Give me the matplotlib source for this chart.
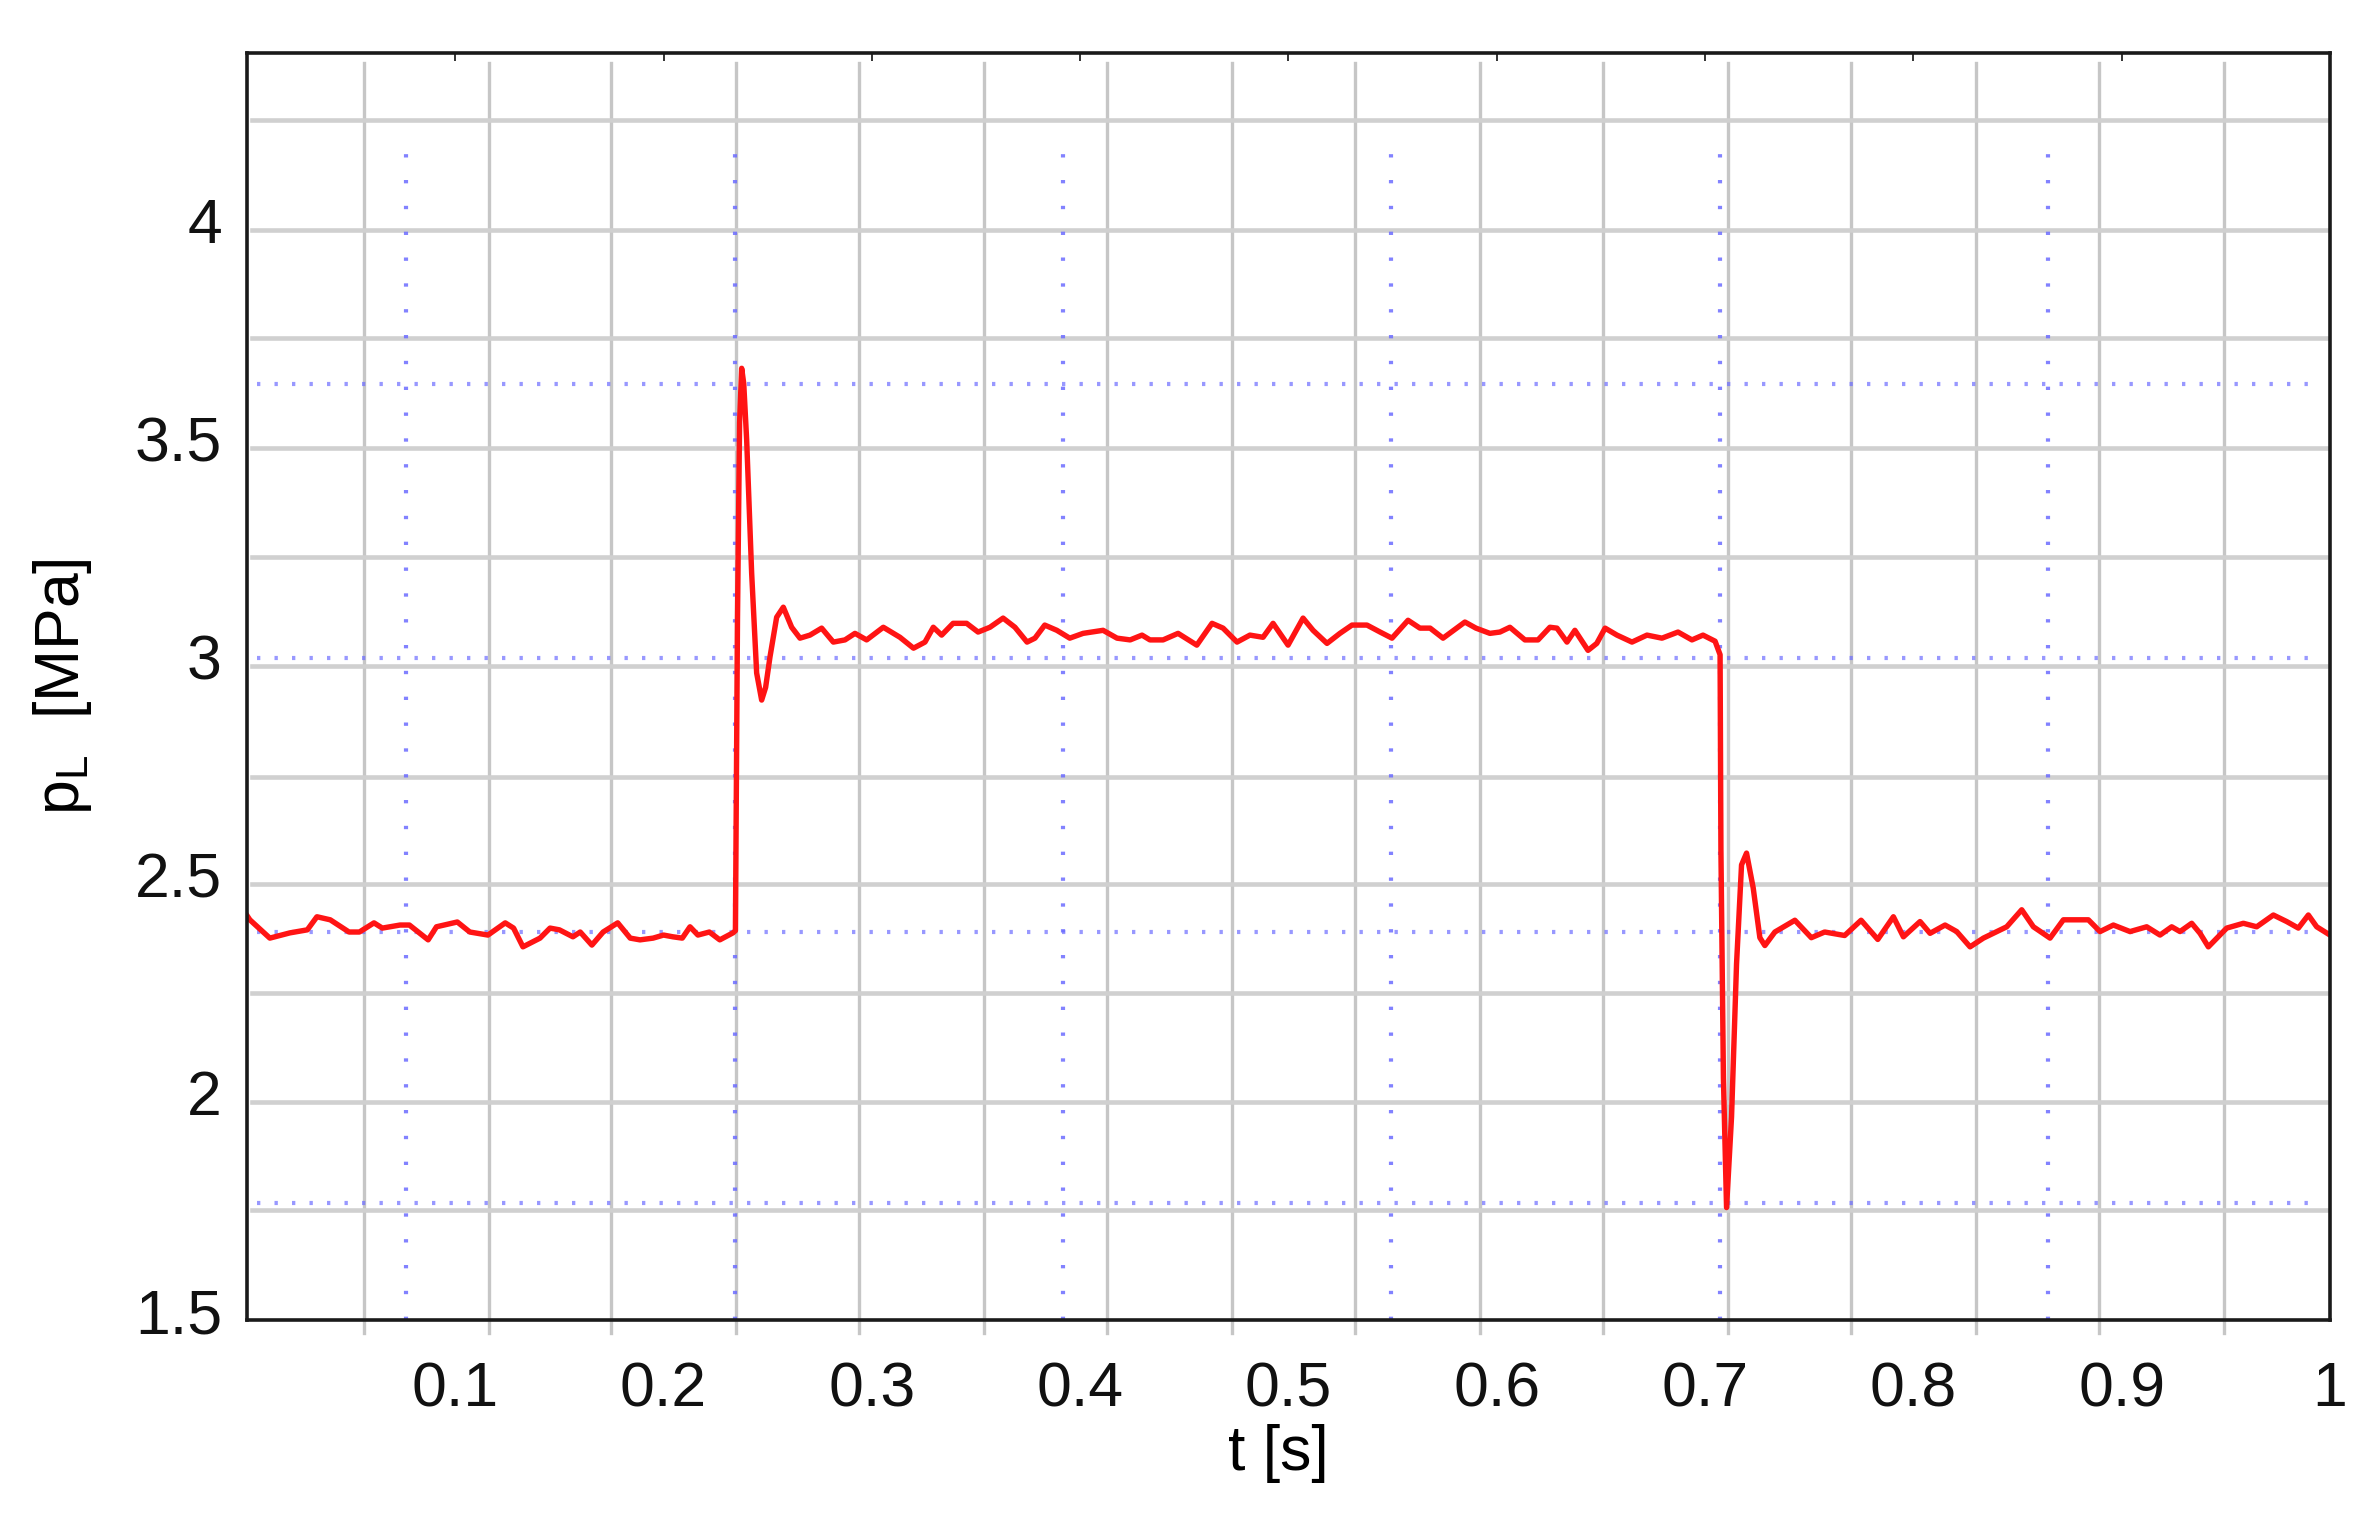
"""Load pressure p_L step response (scope capture) redrawn with matplotlib.

Writes out.png (2372x1525 px).
"""
import matplotlib
matplotlib.use("Agg")
import matplotlib.pyplot as plt

# --- signal -------------------------------------------
t_s = [
    0.000, 0.0014, 0.011, 0.0206, 0.029, 0.0336, 0.040, 0.049, 0.054, 0.061,
    0.065, 0.0735, 0.078, 0.087, 0.091, 0.101, 0.107, 0.1157, 0.124, 0.128,
    0.1325, 0.1407, 0.1455, 0.150, 0.1565, 0.160, 0.1656, 0.171, 0.178, 0.184,
    0.1887, 0.195, 0.200, 0.2045, 0.209, 0.2127, 0.2165, 0.222, 0.227, 0.2333,
    # step up
    0.2345, 0.2355, 0.2365, 0.2375, 0.2385, 0.2399, 0.2423, 0.2447, 0.2471, 0.2490,
    0.2511, 0.2543, 0.2575,
    # plateau
    0.2615, 0.2655, 0.2703, 0.2759, 0.2815, 0.2871, 0.2919, 0.2975, 0.3055, 0.3135,
    0.320, 0.3255, 0.3295, 0.3335, 0.339, 0.3455, 0.351, 0.3567, 0.363, 0.3687,
    0.3745, 0.3783, 0.383, 0.3888, 0.395, 0.4014, 0.411, 0.4177, 0.424, 0.4297,
    0.4335, 0.4398, 0.447, 0.456, 0.4633, 0.4686, 0.4753, 0.4815, 0.4878, 0.4926,
    0.4998, 0.507, 0.5118, 0.5185, 0.5247, 0.5305, 0.5377, 0.544, 0.5497, 0.5574,
    0.5631, 0.568, 0.5742, 0.5847, 0.590, 0.5967, 0.6015, 0.6063, 0.6135, 0.6198,
    0.6255, 0.6289, 0.6337, 0.6375, 0.6438, 0.648, 0.652, 0.6577, 0.6649, 0.6721,
    0.6793, 0.687, 0.6937, 0.699, 0.7048, 0.7072,
    # step down
    0.7076, 0.7088, 0.7103, 0.7127, 0.7151, 0.7175, 0.7199, 0.7231, 0.7263, 0.7287,
    # back to base level
    0.7335, 0.7431, 0.7510, 0.7574, 0.7670, 0.7749, 0.7829, 0.7904, 0.7952, 0.8032,
    0.808, 0.8152, 0.8208, 0.8272, 0.8336, 0.8448, 0.852, 0.8576, 0.8656, 0.872,
    0.884, 0.8896, 0.896, 0.904, 0.912, 0.9184, 0.924, 0.928, 0.9336, 0.9376,
    0.9416, 0.9504, 0.9584, 0.9648, 0.9728, 0.9792, 0.9848, 0.9896, 0.9936, 1.000,
]
p_mpa = [
    2.405, 2.395, 2.353, 2.365, 2.372, 2.402, 2.395, 2.367, 2.367, 2.388,
    2.376, 2.383, 2.383, 2.349, 2.379, 2.390, 2.367, 2.360, 2.388, 2.376,
    2.333, 2.353, 2.376, 2.372, 2.356, 2.367, 2.337, 2.367, 2.388, 2.353,
    2.349, 2.353, 2.360, 2.356, 2.353, 2.379, 2.360, 2.367, 2.349, 2.365,
    2.370, 3.087, 3.536, 3.660, 3.625, 3.496, 3.190, 2.961, 2.899, 2.928,
    2.998, 3.089, 3.112,
    3.066, 3.041, 3.048, 3.064, 3.032, 3.037, 3.052, 3.037, 3.066, 3.043,
    3.018, 3.032, 3.066, 3.048, 3.075, 3.075, 3.055, 3.066, 3.087, 3.066,
    3.032, 3.041, 3.071, 3.059, 3.041, 3.052, 3.059, 3.041, 3.037, 3.048,
    3.037, 3.037, 3.052, 3.025, 3.075, 3.064, 3.032, 3.048, 3.043, 3.075,
    3.025, 3.087, 3.059, 3.029, 3.052, 3.071, 3.071, 3.055, 3.041, 3.082,
    3.064, 3.064, 3.041, 3.078, 3.064, 3.052, 3.055, 3.066, 3.037, 3.037,
    3.066, 3.064, 3.032, 3.059, 3.013, 3.029, 3.064, 3.048, 3.032, 3.048,
    3.041, 3.055, 3.037, 3.048, 3.034, 3.003,
    2.556, 2.032, 1.735, 1.943, 2.294, 2.521, 2.548, 2.468, 2.354, 2.336,
    2.367, 2.394, 2.354, 2.367, 2.359, 2.394, 2.350, 2.402, 2.356, 2.391,
    2.364, 2.383, 2.368, 2.333, 2.353, 2.379, 2.418, 2.379, 2.353, 2.395,
    2.395, 2.368, 2.383, 2.368, 2.379, 2.360, 2.379, 2.368, 2.387, 2.364,
    2.333, 2.376, 2.387, 2.379, 2.406, 2.391, 2.376, 2.406, 2.379, 2.360,
]

# scope screen grid (not aligned with the axis ticks)
screen_grid_t = [0.056, 0.116, 0.175, 0.235, 0.294, 0.354, 0.413, 0.473,
                 0.532, 0.592, 0.651, 0.711, 0.770, 0.830, 0.889, 0.949]
screen_grid_p = [1.729, 1.978, 2.227, 2.477, 2.723, 2.977, 3.228, 3.477,
                 3.730, 3.977, 4.229]

# blue dotted cursor lines
cursor_t = [0.0766, 0.2342, 0.3918, 0.5494, 0.7070, 0.8646]
cursor_p = [3.624, 2.995, 2.368, 1.745]

x_ticks = [0.1, 0.2, 0.3, 0.4, 0.5, 0.6, 0.7, 0.8, 0.9, 1.0]
x_ticklabels = ["0.1", "0.2", "0.3", "0.4", "0.5", "0.6", "0.7", "0.8", "0.9", "1"]
y_ticks = [1.5, 2.0, 2.5, 3.0, 3.5, 4.0]
y_ticklabels = ["1.5", "2", "2.5", "3", "3.5", "4"]

GRID_GRAY = "#c6c6c6"
CURSOR_BLUE = "#6c6cff"
TRACE_RED = "#ff1414"


def main() -> None:
    plt.rcParams["font.family"] = ["Liberation Sans", "DejaVu Sans"]
    plt.rcParams["mathtext.default"] = "regular"

    fig = plt.figure(figsize=(23.72, 15.25), dpi=100)
    ax = fig.add_axes([0.1041, 0.1344, 0.8782, 0.8308])
    ax.set_xlim(0.0, 1.0)
    ax.set_ylim(1.477, 4.383)

    # screen grid
    for x in screen_grid_t:
        ax.axvline(x, ymin=-0.010, ymax=0.992, color=GRID_GRAY, linewidth=2.4,
                   clip_on=False, zorder=1)
    for y in screen_grid_p:
        ax.axhline(y, xmin=0.0025, xmax=1.0, color="#d0d0d0", linewidth=3.3, zorder=1)

    # cursors
    for x in cursor_t:
        ax.axvline(x, ymin=0.0, ymax=0.933, color=CURSOR_BLUE, linewidth=3.0,
                   linestyle=(0, (0.8, 5.4)), alpha=0.85, zorder=1.5)
    for y in cursor_p:
        ax.axhline(y, xmin=0.005, xmax=0.994, color=CURSOR_BLUE, linewidth=3.0,
                   linestyle=(0, (0.8, 3.4)), alpha=0.7, zorder=1.5)

    ax.plot(t_s, p_mpa, color=TRACE_RED, linewidth=3.9, solid_joinstyle="round",
            zorder=3)

    ax.set_xticks(x_ticks)
    ax.set_xticklabels(x_ticklabels)
    ax.set_yticks(y_ticks)
    ax.set_yticklabels(y_ticklabels)
    ax.tick_params(axis="x", direction="in", top=True, bottom=False, length=6,
                   width=1.2, pad=29, labelsize=45, colors="#111111")
    ax.tick_params(axis="y", direction="in", left=False, right=False, length=0,
                   pad=18, labelsize=45, colors="#111111")

    for sp in ax.spines.values():
        sp.set_linewidth(2.6)
        sp.set_color("#1a1a1a")
        sp.set_zorder(4)

    ax.set_xlabel("t [s]", fontsize=45)
    ax.xaxis.set_label_coords(0.495, -0.082)
    ax.set_ylabel(r"$p_L$  [MPa]", fontsize=45)
    ax.yaxis.set_label_coords(-0.0735, 0.5)

    fig.savefig("out.png", dpi=100)
    plt.close(fig)


if __name__ == "__main__":
    main()
